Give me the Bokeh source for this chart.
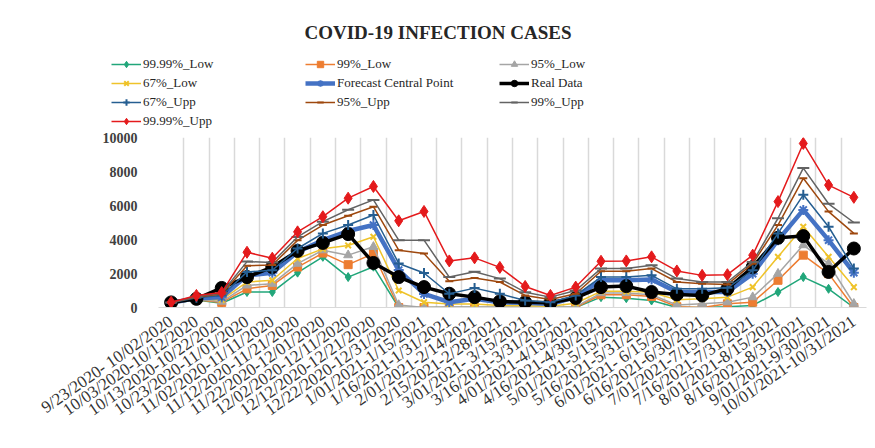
from bokeh.plotting import figure
from bokeh.layouts import column
from bokeh.models import Range1d, FixedTicker, Legend, LegendItem, Label
from bokeh.embed import file_html
from bokeh.resources import INLINE

periods = [
    "9/23/2020- 10/02/2020", "10/03/2020-10/12/2020", "10/13/2020-10/22/2020",
    "10/23/2020-11/01/2020", "11/02/2020-11/11/2020", "11/12/2020-11/21/2020",
    "11/22/2020-12/01/2020", "12/02/2020-12/11/2020", "12/12/2020-12/21/2020",
    "12/22/2020-12/31/2020", "1/01/2021-1/15/2021", "1/16/2021-1/31/2021",
    "2/01/2021-2/14/2021", "2/15/2021-2/28/2021", "3/01/2021- 3/15/2021",
    "3/16/2021-3/31/2021", "4/01/2021-4/15/2021", "4/16/2021-4/30/2021",
    "5/01/2021-5/15/2021", "5/16/2021-5/31/2021", "6/01/2021- 6/15/2021",
    "6/16/2021-6/30/2021", "7/01/2021-7/15/2021", "7/16/2021-7/31/2021",
    "8/01/2021-8/15/2021", "8/16/2021-8/31/2021", "9/01/2021-9/30/2021",
    "10/01/2021-10/31/2021",
]

low_9999 = [230, 440, 250, 910, 910, 2050, 2980, 1790, 2400, 0, 0, 0, 0, 0,
            0, 0, 0, 610, 550, 410, 0, 0, 40, 120, 910, 1790, 1100, 0]
low_99 = [240, 460, 300, 1100, 1300, 2380, 3200, 2520, 3170, 0, 0, 0, 0, 0,
          0, 0, 0, 750, 750, 650, 50, 0, 220, 310, 1600, 3080, 1990, 0]
low_95 = [250, 480, 350, 1300, 1400, 2580, 3370, 3080, 3570, 150, 0, 30, 30, 30,
          30, 30, 50, 850, 850, 750, 150, 220, 310, 610, 1990, 3670, 2580, 220]
low_67 = [260, 500, 450, 1500, 1600, 2880, 3450, 3650, 4160, 1000, 310, 200, 200, 120,
          100, 80, 250, 950, 950, 900, 450, 510, 610, 1200, 2980, 4750, 2980, 1200]
forecast = [270, 550, 600, 1890, 2050, 3270, 3960, 4500, 4850, 2200, 800, 310, 510, 310,
            280, 200, 610, 1600, 1600, 1650, 910, 910, 910, 1990, 3960, 5740, 3960, 2050]
real = [300, 510, 1150, 1790, 2380, 3330, 3800, 4320, 2620, 1790, 1200, 810, 610, 360,
        310, 280, 560, 1200, 1260, 910, 770, 710, 1100, 2380, 4100, 4200, 2090, 3470]
upp_67 = [280, 580, 700, 2090, 2190, 3470, 4360, 4850, 5440, 2590, 2030, 810, 1140, 810,
          410, 310, 710, 1790, 1800, 1890, 1100, 1100, 1160, 2190, 4360, 6630, 4750, 2300]
upp_95 = [290, 620, 800, 2450, 2500, 3950, 4850, 5400, 5930, 3370, 3170, 1540, 1740, 1500,
          710, 470, 810, 2130, 2130, 2290, 1500, 1400, 1360, 2580, 4850, 7600, 5640, 4360]
upp_99 = [300, 650, 850, 2700, 2650, 4150, 5050, 5750, 6330, 3960, 3960, 1790, 2100, 1700,
          900, 610, 1000, 2290, 2290, 2490, 1700, 1500, 1500, 2680, 5250, 8200, 6100, 5000]
upp_9999 = [310, 710, 880, 3250, 2900, 4450, 5340, 6430, 7120, 5100, 5650, 2740, 2920, 2360,
            1240, 710, 1200, 2720, 2740, 2980, 2150, 1890, 1930, 3080, 6230, 9650, 7200, 6480]

y_ticks = [0, 2000, 4000, 6000, 8000, 10000]

series = [
    ("99.99%_Low", low_9999, "#21a67a", 1.5, "diamond", 9),
    ("99%_Low", low_99, "#ed7d31", 1.5, "square", 8),
    ("95%_Low", low_95, "#a5a5a5", 1.5, "triangle", 9),
    ("67%_Low", low_67, "#efc32a", 1.5, "x", 8),
    ("Forecast Central Point", forecast, "#4472c4", 4.5, "asterisk", 10),
    ("Real Data", real, "#000000", 3.5, "circle", 13),
    ("67%_Upp", upp_67, "#255e91", 1.5, "cross", 10),
    ("95%_Upp", upp_95, "#9e480e", 1.5, "dash", 8),
    ("99%_Upp", upp_99, "#636363", 1.5, "dash", 12),
    ("99.99%_Upp", upp_9999, "#e41a1c", 1.5, "diamond", 12),
]

FONT = "Liberation Serif"
W = 875
HEAD_H = 130
x = list(range(len(periods)))
nan = float("nan")


def marker_width(marker):
    return 2 if marker in ("x", "cross", "asterisk", "dash") else 1


def no_frame_align(fig):
    # keep each figure's frame independent inside the column
    if "frame_align" in fig.properties():
        fig.frame_align = False


# ---- header: title and legend ----
head = figure(width=W, height=HEAD_H, output_backend="svg", toolbar_location=None,
              x_range=Range1d(0, W), y_range=Range1d(0, HEAD_H),
              x_axis_type=None, y_axis_type=None, title=None)
head.min_border_left = 0
head.min_border_right = 0
head.min_border_top = 0
head.min_border_bottom = 0
head.outline_line_color = None
head.xgrid.visible = False
head.ygrid.visible = False
head.border_fill_color = "white"
no_frame_align(head)

head.add_layout(Label(x=W / 2, y=HEAD_H - 32, text="COVID-19 INFECTION CASES",
                      text_align="center", text_baseline="middle",
                      text_font=FONT, text_font_size="19px", text_font_style="bold",
                      text_color="#262626"))

items = []
for name, vals, color, lw, marker, size in series:
    # sample renderers only feed the legend; their single point is empty
    ln = head.line(x=[nan], y=[nan], line_color=color, line_width=lw)
    mk = head.scatter(x=[nan], y=[nan], marker=marker, size=size, fill_color=color,
                      line_color=color, line_width=marker_width(marker))
    items.append(LegendItem(label=name, renderers=[ln, mk]))

legend = Legend(items=items, location=(111, 1), orientation="horizontal", ncols=3)
legend.border_line_color = None
legend.background_fill_alpha = 0
legend.padding = 0
legend.margin = 0
legend.spacing = 3
legend.glyph_width = 30
legend.glyph_height = 16
legend.label_height = 16
legend.label_width = 159
legend.label_standoff = 2
legend.label_text_font = FONT
legend.label_text_font_size = "13px"
legend.label_text_color = "#262626"
head.add_layout(legend, "center")

# ---- main chart ----
p = figure(width=W, height=448 - HEAD_H, output_backend="svg", toolbar_location=None,
           x_range=Range1d(-0.5, len(periods) - 0.5), y_range=Range1d(0, 10000),
           title=None)
p.min_border_left = 158
p.min_border_right = 9
p.min_border_top = 7
p.min_border_bottom = 141
p.outline_line_color = None
p.background_fill_color = "white"
p.border_fill_color = "white"
no_frame_align(p)

# vertical grid lines sit on the boundaries between periods
p.xgrid.ticker = FixedTicker(ticks=[i - 0.5 for i in range(len(periods) + 1)])
p.xgrid.grid_line_color = "#d9d9d9"
p.xgrid.grid_line_width = 1.5
p.ygrid.grid_line_color = None

p.xaxis.ticker = FixedTicker(ticks=x)
p.xaxis.major_label_overrides = {i: lab for i, lab in enumerate(periods)}
p.xaxis.major_label_orientation = 0.61
p.xaxis.major_label_text_font = FONT
p.xaxis.major_label_text_font_size = "17px"
p.xaxis.major_label_text_color = "#333333"
p.xaxis.major_tick_line_color = None
p.xaxis.minor_tick_line_color = None
p.xaxis.axis_line_color = "#d9d9d9"
p.xaxis.major_label_standoff = 6

p.yaxis.ticker = FixedTicker(ticks=y_ticks)
p.yaxis.major_label_text_font = FONT
p.yaxis.major_label_text_font_size = "14px"
p.yaxis.major_label_text_font_style = "bold"
p.yaxis.major_label_text_color = "#404040"
p.yaxis.major_tick_line_color = None
p.yaxis.minor_tick_line_color = None
p.yaxis.axis_line_color = None
p.yaxis.major_label_standoff = 15

for name, vals, color, lw, marker, size in series:
    p.line(x, vals, line_color=color, line_width=lw)
    p.scatter(x, vals, marker=marker, size=size, fill_color=color,
              line_color=color, line_width=marker_width(marker))

layout = column(head, p, spacing=0)
open("out.html", "w").write(file_html(layout, INLINE))
